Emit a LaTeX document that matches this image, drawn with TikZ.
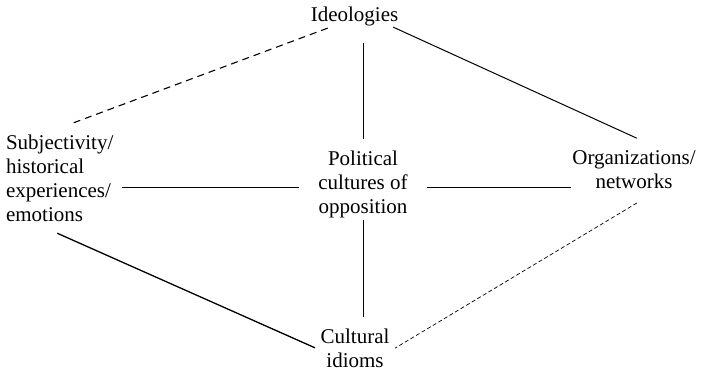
\documentclass[tikz,border=0pt]{standalone}
\usepackage{fontspec}
\setmainfont{LiberationSerif}[Extension=.ttf,UprightFont=*-Regular,BoldFont=*-Bold]
\usepackage{tikz}

\begin{document}
\begin{tikzpicture}[x=1pt,y=-1pt,
		lbl/.style={draw=none,inner sep=0pt,outer sep=0pt,font=\rmfamily\fontsize{21}{24}\selectfont},
		link/.style={line width=1pt},
		dashlink/.style={line width=1.1pt,dash pattern=on 7pt off 5pt},
		thinlink/.style={line width=0.7pt,dash pattern=on 4pt off 2.5pt}]
		\useasboundingbox (0,0) rectangle (703,372);
		%	\draw[very thin,color=gray] (0,0) grid[step=50] (703,372);
		\node[lbl] (ideo) at (354.5,16.2) {Ideologies};
		\node[lbl,align=left,anchor=west] (subj) at (6,177.9) {Subjectivity/\\historical\\experiences/\\emotions};
		\node[lbl,align=center] (pol) at (363,184.1) {Political\\cultures of\\opposition};
		\node[lbl,align=center] (org) at (634,169.9) {Organizations/\\networks};
		\node[lbl,align=center] (cult) at (355,347.9) {Cultural\\idioms};
		% links
		\draw[dashlink,shorten <=6.8pt,shorten >=33.5pt] (ideo.205) -- (subj.112.5);
		\draw[link,shorten <=3.3pt,shorten >=30.5pt] (ideo.345.9) -- (org.32);
		\draw[link,shorten <=17.4pt,shorten >=11.7pt] (ideo.south -| pol.north) -- (pol.north);
		\draw[link,shorten <=9pt,shorten >=19pt] ([yshift=-9.1pt]subj.east) -- ([yshift=-2.9pt]pol.west);
		\draw[link,shorten <=19pt,shorten >=1pt] ([yshift=-2.9pt]pol.east) -- ([yshift=-2.9pt]pol.east -| org.west);
		\draw[link,shorten <=2.4pt,shorten >=11.7pt] (pol.south) -- (pol.south |- cult.north);
		\draw[link,line width=1.3pt,shorten <=29.4pt,shorten >=6.1pt] (subj.236.7) -- (cult.184.3);
		\draw[thinlink,shorten <=27.3pt,shorten >=6.6pt] (org.324.1) -- (cult.354.2);
\end{tikzpicture}
\end{document}
